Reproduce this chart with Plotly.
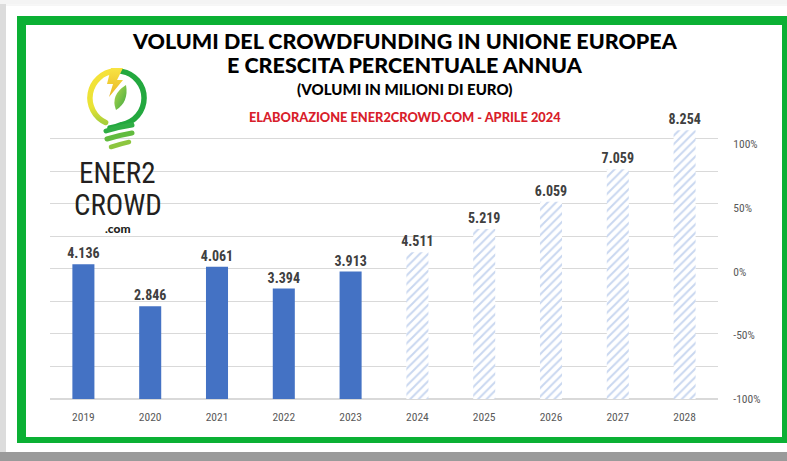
import base64
import plotly.graph_objects as go

# ---------------- data ----------------
years = ["2019", "2020", "2021", "2022", "2023", "2024", "2025", "2026", "2027", "2028"]
volumes = [4136, 2846, 4061, 3394, 3913, 4511, 5219, 6059, 7059, 8254]  # milioni di euro
actual_years = years[:5]
actual_volumes = volumes[:5]
forecast_years = years[5:]
forecast_volumes = volumes[5:]
growth_ticks = [-100, -50, 0, 50, 100]
growth_ticklabels = ["-100%", "-50%", "0%", "50%", "100%"]

title_line1 = "VOLUMI DEL CROWDFUNDING IN UNIONE EUROPEA"
title_line2 = "E CRESCITA PERCENTUALE ANNUA"
title_line3 = "(VOLUMI IN MILIONI DI EURO)"
credit = "ELABORAZIONE ENER2CROWD.COM - APRILE 2024"

# ---------------- geometry helpers ----------------
W, H = 787, 461
ML, MR, MT, MB = 50, 69, 106, 62
PW, PH = W - ML - MR, H - MT - MB


def px(x):
    return (x - ML) / PW


def py(y):
    return (H - MB - y) / PH


NARROW = "Roboto Condensed, Liberation Sans Narrow, Roboto, sans-serif"
TITLE_FONT = "Lato, Inter, Open Sans, sans-serif"
GREEN = "#0bb034"

fig = go.Figure()

fig.add_trace(go.Bar(
    x=actual_years, y=actual_volumes,
    marker=dict(color="#4472C4", line=dict(width=0)),
    texttemplate="%{y:,.0f}", textposition="outside", constraintext="none",
    textfont=dict(family=NARROW, size=14, color="#404040", weight="bold"),
    cliponaxis=False, hoverinfo="skip", showlegend=False,
))
fig.add_trace(go.Bar(
    x=forecast_years, y=forecast_volumes,
    marker=dict(color="#c9d7f0", line=dict(width=0),
                pattern=dict(shape="/", fillmode="replace", bgcolor="#ffffff",
                             fgcolor="#c9d7f0", size=6, solidity=0.32)),
    texttemplate="%{y:,.0f}", textposition="outside", constraintext="none",
    textfont=dict(family=NARROW, size=14, color="#404040", weight="bold"),
    cliponaxis=False, hoverinfo="skip", showlegend=False,
))
# empty trace so that the secondary (percentage) axis is drawn
fig.add_trace(go.Scatter(
    x=years, y=[None] * len(years), yaxis="y2", mode="lines",
    line=dict(color="rgba(0,0,0,0)"), hoverinfo="skip", showlegend=False,
))

# ---------------- logo (SVG image) ----------------
svg = """<svg xmlns='http://www.w3.org/2000/svg' width='80' height='100' viewBox='0 0 80 100'>
<defs>
<linearGradient id='gy' x1='0' y1='0' x2='0' y2='1'>
<stop offset='0' stop-color='#f6e23a'/><stop offset='0.7' stop-color='#e9e335'/><stop offset='1' stop-color='#a8cf3a'/>
</linearGradient>
<linearGradient id='gl' x1='0' y1='0' x2='0' y2='1'>
<stop offset='0' stop-color='#f8e443'/><stop offset='1' stop-color='#e9b526'/>
</linearGradient>
<linearGradient id='gf' x1='0' y1='0' x2='1' y2='1'>
<stop offset='0' stop-color='#b5d94a'/><stop offset='1' stop-color='#3fa944'/>
</linearGradient>
</defs>
<path d='M 34.6 11.1 A 27 27 0 0 0 25.6 62.5' fill='none' stroke='url(#gy)' stroke-width='5.5' stroke-linecap='round'/>
<path d='M 41.7 11.4 A 27 27 0 0 1 41.7 64.6 Q 36 67 30 68' fill='none' stroke='#23a83f' stroke-width='5.5' stroke-linecap='round'/>
<path d='M 26 71 Q 38 67 52 65' fill='none' stroke='#2fae45' stroke-width='5' stroke-linecap='round'/>
<path d='M 27 79 Q 40 75 52 73' fill='none' stroke='#62bb3f' stroke-width='5' stroke-linecap='round'/>
<path d='M 31 87 Q 40 84 49 82' fill='none' stroke='#8dc63f' stroke-width='4.5' stroke-linecap='round'/>
<polygon points='31,8 43,8 37,20 43,20 29,37 33,24 27,24' fill='url(#gl)'/>
<path d='M 36 50 Q 30 35 46 25 Q 49 42 36 50 Z' fill='url(#gf)'/>
</svg>"""
logo_src = "data:image/svg+xml;base64," + base64.b64encode(svg.encode()).decode()

images = [dict(source=logo_src, xref="paper", yref="paper", x=px(80), y=py(60),
               sizex=80 / PW, sizey=100 / PH, xanchor="left", yanchor="top",
               sizing="stretch", layer="above")]

# ---------------- frame & card shadow ----------------
shapes = [
    dict(type="rect", xref="paper", yref="paper", x0=px(0), x1=px(6), y0=py(452), y1=py(4),
         fillcolor="#dcdcdc", line_width=0, layer="below"),
    dict(type="rect", xref="paper", yref="paper", x0=px(0), x1=px(W), y0=py(461), y1=py(452),
         fillcolor="#9a9a9a", line_width=0, layer="below"),
    dict(type="rect", xref="paper", yref="paper", x0=px(6), x1=px(W), y0=py(452), y1=py(4),
         fillcolor="#ffffff", line_width=0, layer="below"),
    dict(type="line", xref="paper", yref="paper", x0=px(6), x1=px(W), y0=py(5), y1=py(5),
         line=dict(color="#eeeeee", width=1), layer="below"),
    dict(type="rect", xref="paper", yref="paper", x0=px(17), x1=px(788), y0=py(443), y1=py(16),
         fillcolor=GREEN, line_width=0, layer="below"),
    dict(type="rect", xref="paper", yref="paper", x0=px(26), x1=px(782), y0=py(437), y1=py(25),
         fillcolor="#ffffff", line_width=0, layer="below"),
]

# ---------------- texts ----------------
ann = []


def add_text(text, x, y, size, color, family, weight="bold", xanchor="center"):
    ann.append(dict(text=text, x=px(x), y=py(y), xref="paper", yref="paper",
                    xanchor=xanchor, yanchor="middle", showarrow=False,
                    font=dict(family=family, size=size, color=color, weight=weight)))


add_text(title_line1, 405, 41, 21.5, "#000000", TITLE_FONT, weight=900)
add_text(title_line2, 405, 65, 21.5, "#000000", TITLE_FONT, weight=900)
add_text(title_line3, 405, 89, 15, "#000000", TITLE_FONT, weight=900)
add_text(credit, 405, 117, 12.8, "#d8202a", TITLE_FONT, weight=900)
add_text("ENER2", 117, 173, 29, "#231f20", NARROW, weight="normal")
add_text("CROWD", 118, 205, 29, "#231f20", NARROW, weight="normal")
add_text(".com", 118, 228, 12, "#231f20", TITLE_FONT, weight=900)

fig.update_layout(
    width=W, height=H,
    margin=dict(l=ML, r=MR, t=MT, b=MB, pad=0),
    paper_bgcolor="#f4f4f4", plot_bgcolor="rgba(0,0,0,0)",
    separators=",.",
    barmode="overlay", bargap=0.67,
    showlegend=False,
    xaxis=dict(categoryorder="array", categoryarray=years,
               showgrid=False, showline=False, zeroline=False,
               ticks="outside", ticklen=7, tickcolor="rgba(0,0,0,0)",
               tickfont=dict(family=NARROW, size=11.5, color="#595959")),
    yaxis=dict(range=[0, 9000], dtick=1000, showticklabels=False,
               showgrid=True, gridcolor="#d9d9d9", gridwidth=1,
               zeroline=True, zerolinecolor="#d9d9d9", showline=False, ticks=""),
    yaxis2=dict(overlaying="y", side="right", range=[-100, 130],
                tickvals=growth_ticks, ticktext=growth_ticklabels,
                showgrid=False, zeroline=False, showline=False,
                ticks="outside", ticklen=12, tickcolor="rgba(0,0,0,0)",
                tickfont=dict(family=NARROW, size=11.5, color="#595959")),
    shapes=shapes, annotations=ann, images=images,
)

fig.write_html("out.html", config={"displayModeBar": False},
               post_script="document.body.style.margin='0';")
